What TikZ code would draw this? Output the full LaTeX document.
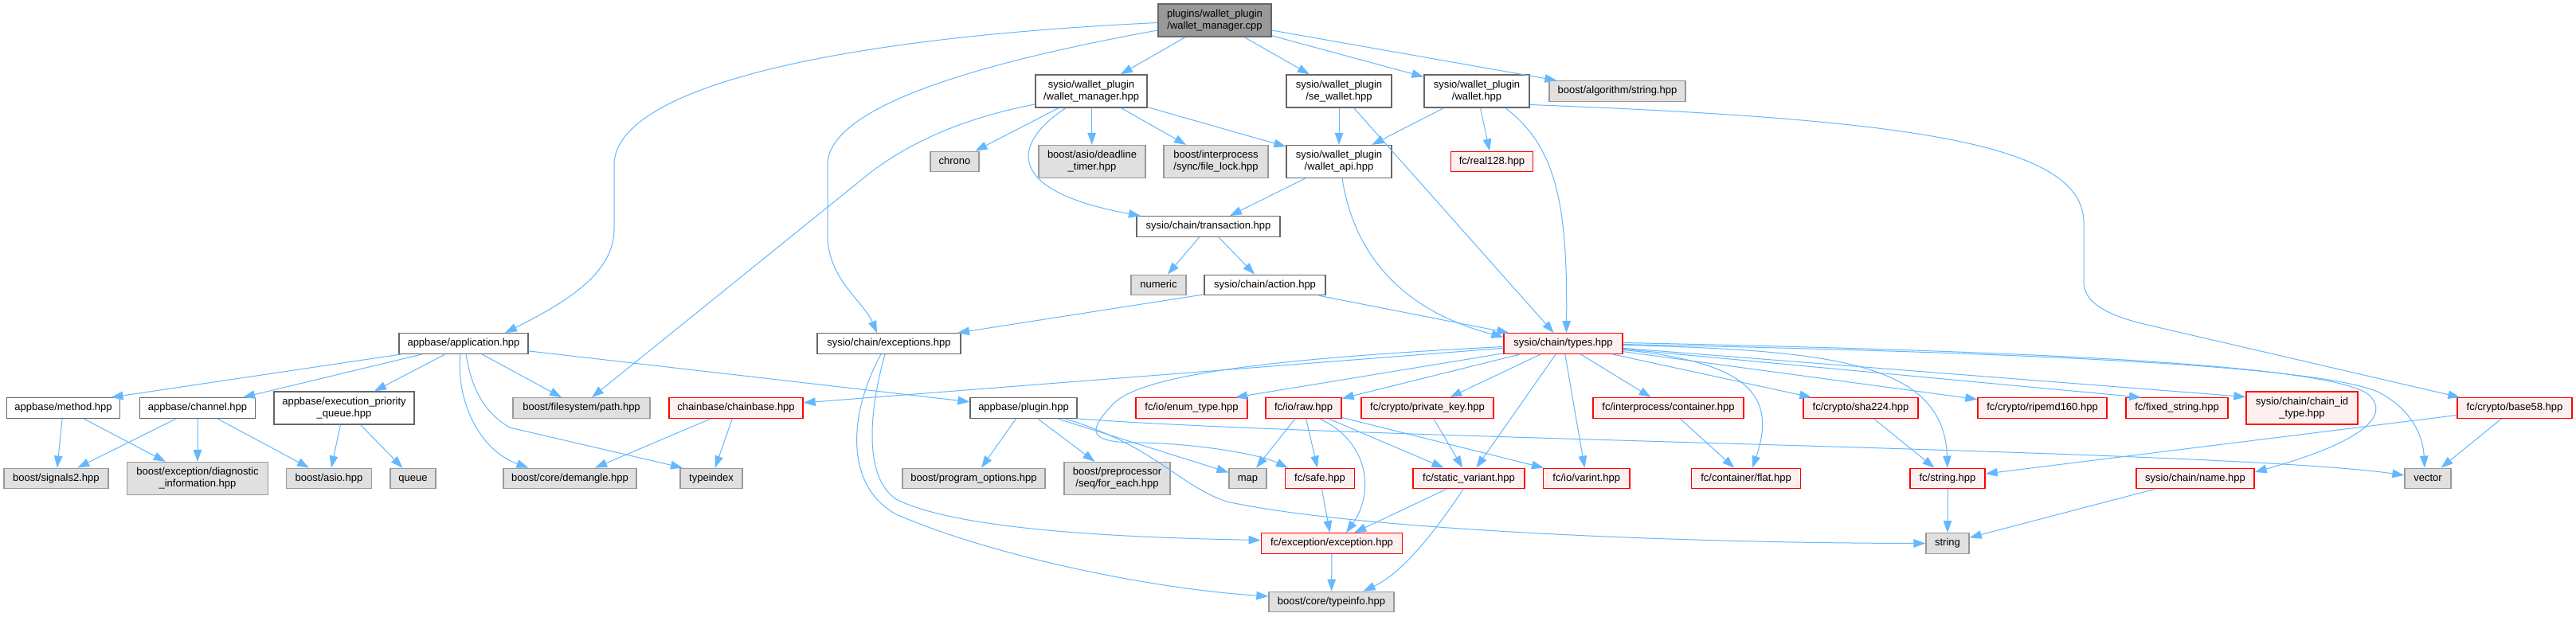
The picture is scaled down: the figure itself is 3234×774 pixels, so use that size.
\documentclass[tikz,border=0pt]{standalone}
\usepackage{fontspec}
\setmainfont{Liberation Sans}
\usetikzlibrary{arrows.meta}
\definecolor{edgeblue}{HTML}{63B8FF}
\definecolor{redfill}{HTML}{FFF0F0}
\definecolor{grayfill}{HTML}{E0E0E0}
\definecolor{grayline}{HTML}{999999}
\definecolor{darkline}{HTML}{666666}
\definecolor{mainfill}{HTML}{999999}
\begin{document}
\begin{tikzpicture}[x=1pt,y=-1pt,
  every node/.style={font=\fontsize{13}{15}\selectfont, align=center},
  b/.style={rectangle, line width=1.3pt, inner xsep=4pt, inner ysep=0pt},
  one/.style={b, minimum height=25.5pt, text height=9.5pt, text depth=2.8pt},
  two/.style={b, minimum height=41pt},
  wn/.style={draw=darkline, fill=white},
  gn/.style={draw=grayline, fill=grayfill},
  rn/.style={draw=red, fill=redfill},
  mn/.style={draw=darkline, fill=mainfill},
  e/.style={draw=edgeblue, line width=1pt, -{Triangle[length=15pt,width=10.5pt]}},
]
\useasboundingbox (0,0) rectangle (3234,774);
\fill[white] (0,0) rectangle (3234,774);

% row 1-2
\node[two,mn,minimum width=142pt] (main) at (1525,25.5) {plugins/wallet\_plugin\\/wallet\_manager.cpp};
\node[two,wn,minimum width=140pt] (wm) at (1370,114.5) {sysio/wallet\_plugin\\/wallet\_manager.hpp};
\node[two,wn,minimum width=132pt] (sew) at (1681,114.5) {sysio/wallet\_plugin\\/se\_wallet.hpp};
\node[two,wn,minimum width=132pt] (wal) at (1854,114.5) {sysio/wallet\_plugin\\/wallet.hpp};
\node[one,gn,minimum width=171pt] (algs) at (2030.5,114.5) {boost/algorithm/string.hpp};
% row 3
\node[one,gn,minimum width=61pt] (chrono) at (1198.5,203) {chrono};
\node[two,gn,minimum width=134pt] (dtimer) at (1371,203) {boost/asio/deadline\\\_timer.hpp};
\node[two,gn,minimum width=131pt] (flock) at (1526.5,203) {boost/interprocess\\/sync/file\_lock.hpp};
\node[two,wn,minimum width=132pt] (wapi) at (1681,203) {sysio/wallet\_plugin\\/wallet\_api.hpp};
\node[one,rn,minimum width=103.5pt] (real128) at (1873,203) {fc/real128.hpp};
% row 4-5
\node[one,wn,minimum width=180pt] (trans) at (1517,284.5) {sysio/chain/transaction.hpp};
\node[one,gn,minimum width=69pt] (numeric) at (1454.5,358) {numeric};
\node[one,wn,minimum width=152pt] (action) at (1588,358) {sysio/chain/action.hpp};
% row 6
\node[one,wn,minimum width=162pt] (app) at (582,431.5) {appbase/application.hpp};
\node[one,wn,minimum width=180pt] (exc) at (1116,431.5) {sysio/chain/exceptions.hpp};
\node[one,rn,minimum width=149pt] (types) at (1962.5,431.5) {sysio/chain/types.hpp};
% row 7
\node[one,wn,minimum width=142.5pt] (method) at (79.5,512.5) {appbase/method.hpp};
\node[one,wn,minimum width=145pt] (channel) at (248,512.5) {appbase/channel.hpp};
\node[two,wn,minimum width=176pt] (epq) at (432,512.5) {appbase/execution\_priority\\\_queue.hpp};
\node[one,gn,minimum width=172pt] (path) at (730,512.5) {boost/filesystem/path.hpp};
\node[one,rn,minimum width=168pt] (cbase) at (924,512.5) {chainbase/chainbase.hpp};
\node[one,wn,minimum width=134pt] (plugin) at (1285,512.5) {appbase/plugin.hpp};
\node[one,rn,minimum width=140pt] (enum) at (1496,512.5) {fc/io/enum\_type.hpp};
\node[one,rn,minimum width=95pt] (raw) at (1636.5,512.5) {fc/io/raw.hpp};
\node[one,rn,minimum width=166pt] (pkey) at (1792,512.5) {fc/crypto/private\_key.hpp};
\node[one,rn,minimum width=189pt] (cont) at (2094.5,512.5) {fc/interprocess/container.hpp};
\node[one,rn,minimum width=144pt] (sha) at (2336,512.5) {fc/crypto/sha224.hpp};
\node[one,rn,minimum width=162pt] (ripe) at (2564,512.5) {fc/crypto/ripemd160.hpp};
\node[one,rn,minimum width=128pt] (fixs) at (2733,512.5) {fc/fixed\_string.hpp};
\node[two,rn,minimum width=140pt] (cid) at (2890,512.5) {sysio/chain/chain\_id\\\_type.hpp};
\node[one,rn,minimum width=144pt] (b58) at (3157,512.5) {fc/crypto/base58.hpp};
% row 8
\node[one,gn,minimum width=131pt] (sig) at (70.4,601) {boost/signals2.hpp};
\node[two,gn,minimum width=177pt] (diag) at (248,601) {boost/exception/diagnostic\\\_information.hpp};
\node[one,gn,minimum width=107pt] (asio) at (413,601) {boost/asio.hpp};
\node[one,gn,minimum width=57pt] (queue) at (518.5,601) {queue};
\node[one,gn,minimum width=167pt] (dem) at (715.5,601) {boost/core/demangle.hpp};
\node[one,gn,minimum width=78pt] (tindex) at (893,601) {typeindex};
\node[one,gn,minimum width=179pt] (popt) at (1222.5,601) {boost/program\_options.hpp};
\node[two,gn,minimum width=133pt] (foreach) at (1402.5,601) {boost/preprocessor\\/seq/for\_each.hpp};
\node[one,gn,minimum width=47pt] (map) at (1566.5,601) {map};
\node[one,rn,minimum width=86.5pt] (safe) at (1657,601) {fc/safe.hpp};
\node[one,rn,minimum width=140pt] (sv) at (1844,601) {fc/static\_variant.hpp};
\node[one,rn,minimum width=108.5pt] (varint) at (1991.7,601) {fc/io/varint.hpp};
\node[one,rn,minimum width=136.5pt] (flat) at (2192,601) {fc/container/flat.hpp};
\node[one,rn,minimum width=94pt] (fstr) at (2445,601) {fc/string.hpp};
\node[one,rn,minimum width=148pt] (name) at (2756,601) {sysio/chain/name.hpp};
\node[one,gn,minimum width=58pt] (vector) at (3048,601) {vector};
% row 9-10
\node[one,rn,minimum width=177.5pt] (fexc) at (1672,682.5) {fc/exception/exception.hpp};
\node[one,gn,minimum width=54pt] (string) at (2445,682.5) {string};
\node[one,gn,minimum width=157pt] (tinfo) at (1671.5,756) {boost/core/typeinfo.hpp};

% edges from main
\draw[e] ([yshift=-3]main.west) .. controls (1000,50) and (771,120) .. (771,207) -- (771,287) .. controls (771,340) and (720,375) .. ([xshift=52]app.north);
\draw[e] ([yshift=-12.5]main.west) .. controls (1250,75) and (1039,130) .. (1039,207) -- (1039,296) .. controls (1039,350) and (1085,380) .. ([xshift=-15]exc.north);
\draw[e] (main) -- (wm);
\draw[e] (main) -- (sew);
\draw[e] (main) -- (wal);
\draw[e] (main) -- (algs);
% wallet_manager.hpp
\draw[e] (wm) -- (chrono);
\draw[e] (wm) -- (dtimer);
\draw[e] (wm) -- (flock);
\draw[e] (wm) -- (wapi);
\draw[e] ([yshift=-16.5]wm.west) .. controls (1200,150) and (1130,185) .. (1080,227) -- ([xshift=13]path.north);
\draw[e] ([xshift=-32]wm.south) .. controls (1270,180) and (1260,240) .. ([xshift=-85]trans.north);
% se_wallet, wallet
\draw[e] (sew) -- (wapi);
\draw[e] (sew) -- (types);
\draw[e] (wal) -- (wapi);
\draw[e] (wal) -- (real128);
\draw[e] ([xshift=36]wal.south) .. controls (1955,185) and (1968,260) .. ([xshift=4]types.north);
\draw[e] ([yshift=-17]wal.east) .. controls (2400,150) and (2616,180) .. (2616,280) -- (2616,355) .. controls (2616,385) and (2660,400) .. (2700,409) -- ([xshift=4]b58.north west);
% wallet_api, transaction, action
\draw[e] (wapi) -- (trans);
\draw[e] ([xshift=4]wapi.south) .. controls (1700,320) and (1760,390) .. ([yshift=8]types.west);
\draw[e] (trans) -- (numeric);
\draw[e] (trans) -- (action);
\draw[e] (action) -- (exc);
\draw[e] (action) -- (types);
% exceptions
\draw[e] ([xshift=-5]exc.south) .. controls (1090,520) and (1085,600) .. (1125,627) .. controls (1200,665) and (1400,675) .. ([yshift=4]fexc.west);
\draw[e] ([xshift=-10]exc.south) .. controls (1065,520) and (1060,610) .. (1125,646) .. controls (1250,700) and (1450,740) .. ([yshift=7]tinfo.west);
% application
\draw[e] ([xshift=-78]app.south) -- ([xshift=60]method.north);
\draw[e] ([xshift=-52]app.south) -- ([xshift=57]channel.north);
\draw[e] ([xshift=-23]app.south) -- ([xshift=38]epq.north);
\draw[e] ([xshift=23]app.south) -- ([xshift=-25]path.north);
\draw[e] ([xshift=-4]app.south) .. controls (572,500) and (600,565) .. ([xshift=-52]dem.north);
\draw[e] ([xshift=3]app.south) .. controls (592,490) and (610,520) .. (640,537) -- ([xshift=-36]tindex.north);
\draw[e] (app) -- (plugin);
% appbase headers
\draw[e] (method) -- (sig);
\draw[e] (method) -- (diag);
\draw[e] (channel) -- (sig);
\draw[e] (channel) -- (diag);
\draw[e] (channel) -- (asio);
\draw[e] (epq) -- (asio);
\draw[e] (epq) -- (queue);
\draw[e] (cbase) -- (dem);
\draw[e] (cbase) -- (tindex);
% types.hpp
\draw[e] (types) -- (cbase);
\draw[e] (types) -- ([xshift=55]enum.north);
\draw[e] (types) -- (raw);
\draw[e] ([yshift=-4]types.west) .. controls (1600,450) and (1440,470) .. (1400,505) .. controls (1360,545) and (1370,556) .. (1430,556) .. controls (1500,557) and (1580,570) .. ([xshift=-40]safe.north);
\draw[e] (types) -- (pkey);
\draw[e] (types) -- (sv);
\draw[e] (types) -- (varint);
\draw[e] (types) -- (cont);
\draw[e] ([yshift=-8]types.east) .. controls (2200,455) and (2230,500) .. ([xshift=8]flat.north);
\draw[e] (types) -- (sha);
\draw[e] (types) -- (ripe);
\draw[e] (types) -- ([xshift=-45]fixs.north);
\draw[e] (types) -- ([yshift=14]cid.west);
\draw[e] ([yshift=-2]types.east) .. controls (2300,440) and (2440,455) .. (fstr.north);
\draw[e] ([yshift=1]types.east) .. controls (2500,440) and (2900,455) .. (2970,493) .. controls (3000,515) and (2985,550) .. ([yshift=8]name.east);
\draw[e] ([yshift=-1]types.east) .. controls (2500,442) and (2900,457) .. (2985,492) .. controls (3030,515) and (3042,550) .. ([xshift=-4]vector.north);
% raw and others
\draw[e] (raw) -- (map);
\draw[e] (raw) -- (safe);
\draw[e] ([xshift=20]raw.south) .. controls (1720,555) and (1725,620) .. ([xshift=18]fexc.north);
\draw[e] (raw) -- (sv);
\draw[e] (raw) -- (varint);
\draw[e] (pkey) -- (sv);
\draw[e] (sv) -- (fexc);
\draw[e] ([xshift=-7]sv.south) .. controls (1800,670) and (1760,720) .. ([xshift=40]tinfo.north);
\draw[e] (safe) -- (fexc);
\draw[e] (fexc) -- (tinfo);
\draw[e] (cont) -- (flat);
\draw[e] (sha) -- (fstr);
\draw[e] (fstr) -- (string);
\draw[e] (name) -- (string);
\draw[e] (b58) -- (vector);
\draw[e] (b58) -- (fstr);
% plugin
\draw[e] (plugin) -- (popt);
\draw[e] (plugin) -- (foreach);
\draw[e] (plugin) -- (map);
\draw[e] ([xshift=52]plugin.south) .. controls (1450,560) and (1480,610) .. (1540,630) .. controls (1700,665) and (2100,682) .. (string.west);
\draw[e] (plugin.south east) .. controls (1700,552) and (2800,565) .. ([yshift=4]vector.west);
\end{tikzpicture}
\end{document}
